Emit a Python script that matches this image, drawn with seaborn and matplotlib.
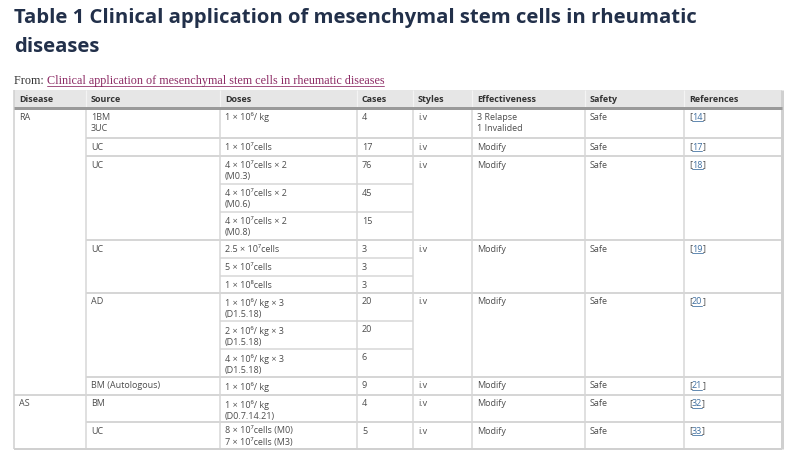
import matplotlib
matplotlib.use("Agg")
import matplotlib.pyplot as plt
from matplotlib.patches import Rectangle
import seaborn as sns

# table content
title_lines = ["Table 1 Clinical application of mesenchymal stem cells in rheumatic",
               "diseases"]
from_prefix = "From: "
from_link = "Clinical application of mesenchymal stem cells in rheumatic diseases"

headers = ["Disease", "Source", "Doses", "Cases", "Styles", "Effectiveness", "Safety", "References"]

diseases = ["RA", "AS"]
disease_spans = [12, 2]

sources = ["1BM\n3UC", "UC", "UC", "UC", "AD", "BM (Autologous)", "BM", "UC"]
source_spans = [1, 1, 3, 3, 3, 1, 1, 1]
styles = ["i.v", "i.v", "i.v", "i.v", "i.v", "i.v", "i.v", "i.v"]
effectiveness = ["3 Relapse\n1 Invalided", "Modify", "Modify", "Modify",
                 "Modify", "Modify", "Modify", "Modify"]
safety = ["Safe", "Safe", "Safe", "Safe", "Safe", "Safe", "Safe", "Safe"]
references = ["14", "17", "18", "19", "20", "21", "32", "33"]

doses = [
    "1 × 10⁶/ kg",
    "1 × 10⁷cells",
    "4 × 10⁷cells × 2\n(M0.3)",
    "4 × 10⁷cells × 2\n(M0.6)",
    "4 × 10⁷cells × 2\n(M0.8)",
    "2.5 × 10⁷cells",
    "5 × 10⁷cells",
    "1 × 10⁸cells",
    "1 × 10⁶/ kg × 3\n(D1.5.18)",
    "2 × 10⁶/ kg × 3\n(D1.5.18)",
    "4 × 10⁶/ kg × 3\n(D1.5.18)",
    "1 × 10⁶/ kg",
    "1 × 10⁶/ kg\n(D0.7.14.21)",
    "8 × 10⁷cells (M0)\n7 × 10⁷cells (M3)",
]
cases = [4, 17, 76, 45, 15, 3, 3, 3, 20, 20, 6, 9, 4, 5]

# layout (pixels)
W, H = 800, 451
COL_X = [14, 86, 220, 357, 413, 472, 585, 684, 782]
HEAD_TOP, HEAD_BOT = 90, 108
ROW_H = [30, 18, 28, 28, 28, 18, 18, 17, 28, 28, 28, 18, 27, 27]
PAD_X, PAD_Y = 5, 4.5
PT = 0.72  # points per pixel at dpi 100

sns.set_theme(style="white")
plt.rcParams["font.family"] = ["Open Sans", "DejaVu Sans"]

TEXT_C = "#4d4d4d"
LINE_C = "#d6d6d6"
FS = 6.5

fig = plt.figure(figsize=(W / 100, H / 100), dpi=100)
ax = fig.add_axes([0, 0, 1, 1])
ax.set_xlim(0, W)
ax.set_ylim(H, 0)
ax.axis("off")


def hline(x0, x1, y, lw=1.5, c=LINE_C):
    ax.plot([x0, x1], [y, y], color=c, lw=lw * PT, solid_capstyle="butt")


def vline(x, y0, y1, lw=1.5, c=LINE_C):
    ax.plot([x, x], [y0, y1], color=c, lw=lw * PT, solid_capstyle="butt")


def cell(col, y, s, **kw):
    return ax.text(COL_X[col] + PAD_X, y + PAD_Y, s, va="top", ha="left",
                   fontsize=FS, color=TEXT_C, linespacing=1.3, **kw)


# title
for i, line in enumerate(title_lines):
    ax.text(14, 18 + i * 29, line, fontsize=14.6, fontweight="bold",
            color="#22304a", va="center", ha="left")

t_from = ax.text(14, 81, from_prefix, fontsize=8.7, family=["Liberation Serif"],
                 color="#333333", va="center", ha="left")
t_link = ax.annotate(from_link, xy=(1, 0), xycoords=t_from, va="bottom", ha="left",
                     fontsize=8.7, family=["Liberation Serif"], color="#8c2a64")

# header
ax.add_patch(Rectangle((COL_X[0], HEAD_TOP), COL_X[-1] - COL_X[0], HEAD_BOT - HEAD_TOP,
                       facecolor="#e6e6e6", edgecolor="none"))
for i, h in enumerate(headers):
    ax.text(COL_X[i] + PAD_X, (HEAD_TOP + HEAD_BOT) / 2, h, va="center", ha="left",
            fontsize=FS, fontweight="bold", color="#333333")
for x in COL_X[1:-1]:
    vline(x, HEAD_TOP, HEAD_BOT, lw=1.2, c="#f4f4f4")

# row geometry
row_top = [HEAD_BOT]
for h in ROW_H:
    row_top.append(row_top[-1] + h)
bottom = row_top[-1]

src_start = [0]
for s in source_spans:
    src_start.append(src_start[-1] + s)
dis_start = [0]
for s in disease_spans:
    dis_start.append(dis_start[-1] + s)

# horizontal lines between rows
for i in range(1, len(ROW_H)):
    y = row_top[i]
    if i in dis_start:
        hline(COL_X[0], COL_X[-1], y, lw=2)
    elif i in src_start:
        hline(COL_X[1], COL_X[-1], y, lw=2)
    else:
        hline(COL_X[2], COL_X[4], y)

# vertical lines and borders
for x in COL_X[1:-1]:
    vline(x, HEAD_BOT, bottom)
vline(COL_X[0], HEAD_TOP, bottom, lw=1.5, c="#cfcfcf")
vline(COL_X[-1], HEAD_TOP, bottom, lw=3, c="#d0d0d0")
hline(COL_X[0], COL_X[-1], bottom, lw=2, c="#d0d0d0")
hline(COL_X[0], COL_X[-1], HEAD_BOT, lw=3, c="#9a9a9a")

# cell text
for d, start in zip(diseases, dis_start):
    cell(0, row_top[start], d)

ref_texts = []
for k, start in enumerate(src_start[:-1]):
    y = row_top[start]
    cell(1, y, sources[k])
    cell(4, y, styles[k])
    cell(5, y, effectiveness[k])
    cell(6, y, safety[k])
    lb = cell(7, y, "[")
    num = ax.annotate(references[k], xy=(1, 0), xycoords=lb, va="bottom", ha="left",
                      fontsize=FS, color="#3f6fa0")
    ax.annotate("]", xy=(1, 0), xycoords=num, va="bottom", ha="left",
                fontsize=FS, color=TEXT_C)
    ref_texts.append(num)

for i, (dose, n) in enumerate(zip(doses, cases)):
    cell(2, row_top[i], dose)
    cell(3, row_top[i], str(n))

# underlines for links
fig.canvas.draw()
renderer = fig.canvas.get_renderer()
inv = ax.transData.inverted()
for t, off in [(t_link, 1.5)] + [(r, 1.0) for r in ref_texts]:
    bb = t.get_window_extent(renderer)
    (x0, y0), (x1, _) = inv.transform([[bb.x0, bb.y0], [bb.x1, bb.y1]])
    ax.plot([x0, x1], [y0 - off, y0 - off], color=t.get_color(), lw=0.8 * PT)

fig.savefig("out.png", dpi=100, facecolor="white")
